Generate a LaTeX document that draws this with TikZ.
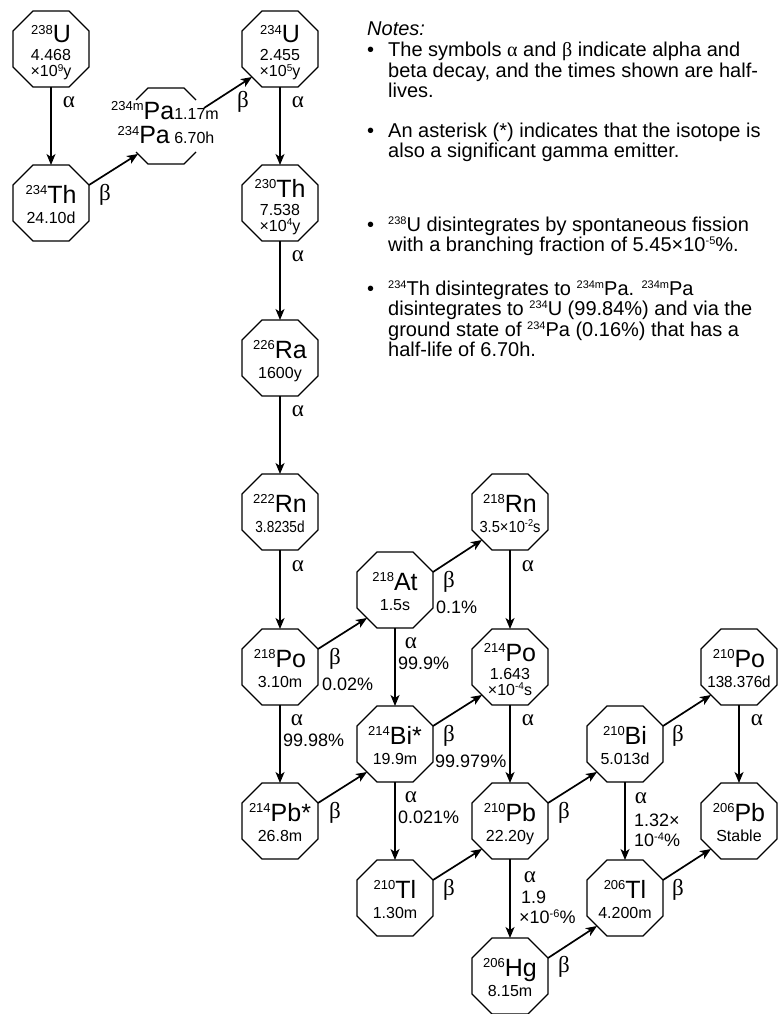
\documentclass[tikz,border=0pt]{standalone}
\usepackage{fontspec}
\usepackage{graphicx}
\setmainfont{Liberation Sans}
\newfontfamily\grkfont{Liberation Serif}
\usetikzlibrary{arrows.meta,calc}
\newcommand\Nuc[2]{\raisebox{8.5pt}{\fontsize{13}{13}\selectfont #1}{\fontsize{25}{25}\selectfont #2}}
\newcommand\Hs[1]{\raisebox{5.5pt}{\fontsize{10}{10}\selectfont #1}}
\newcommand\Ns[1]{\raisebox{7pt}{\fontsize{11}{11}\selectfont #1}}
\newcommand\Ga{{\grkfont α}}
\newcommand\Gb{{\grkfont β}}
\tikzset{
  octbox/.style={draw=none, minimum width=76pt, minimum height=76pt, inner sep=0pt, outer sep=0pt},
  octline/.style={line width=1.3pt, line join=miter},
  symtext/.style={anchor=base, inner sep=0pt, font=\fontsize{25}{25}\selectfont},
  hltext/.style={anchor=base, inner sep=0pt, font=\fontsize{16}{16}\selectfont},
  arr/.style={line width=1.7pt, -{Stealth[length=11pt,width=9pt,inset=3pt]}},
  glab/.style={inner sep=0pt, font=\grkfont\fontsize{23}{23}\selectfont},
  plab/.style={anchor=west, inner sep=0pt, font=\fontsize{18}{18}\selectfont},
  note/.style={anchor=base west, inner sep=0pt, font=\fontsize{20}{21}\selectfont},
}
\newcommand\Oct[3]{%
  \node[octbox] (#1) at (#2,#3) {};
  \draw[octline, shift={(#2,#3)}] (-18,-38) -- (18,-38) -- (38,-18) -- (38,18) -- (18,38) -- (-18,38) -- (-38,18) -- (-38,-18) -- cycle;
}
\newcommand\IsoOne[5]{%
  \Oct{#1}{#2}{#3}
  \node[symtext] (#1-s) at (#2,#3) {#4};
  \node[hltext] (#1-h) at (#2,#3+20) {#5};
}
\newcommand\IsoTwo[6]{%
  \Oct{#1}{#2}{#3}
  \node[symtext] (#1-s) at (#2,#3-6) {#4};
  \node[hltext] (#1-h) at (#2,#3+12) {#5};
  \node[hltext] (#1-k) at (#2,#3+28) {#6};
}
\begin{document}
\begin{tikzpicture}[x=1pt,y=-1pt]
\useasboundingbox (0,0) rectangle (780,1014);
% isotopes
\IsoTwo{U238}{51}{49}{\Nuc{238}{U}}{4.468}{×10\Hs{9}y}
\IsoOne{Th234}{51}{203}{\Nuc{234}{Th}}{24.10d}
\node[octbox] (Pa) at (166,126) {};
\draw[octline, shift={(166,126)}] (-30,-26) -- (-18,-38) -- (18,-38) -- (30,-26);
\draw[octline, shift={(166,126)}] (-30,26) -- (-18,38) -- (18,38) -- (30,26);
\node[anchor=base, inner sep=0pt] (Pa-a) at (165,119.5) {\Nuc{234m}{Pa}{\fontsize{16}{16}\selectfont 1.17m}};
\node[anchor=base, inner sep=0pt] (Pa-b) at (166,143.5) {\Nuc{234}{Pa}{\fontsize{16}{16}\selectfont\ 6.70h}};
\IsoTwo{U234}{280}{49}{\Nuc{234}{U}}{2.455}{×10\Hs{5}y}
\IsoTwo{Th230}{280}{203}{\Nuc{230}{Th}}{7.538}{×10\Hs{4}y}
\IsoOne{Ra226}{280}{358}{\Nuc{226}{Ra}}{1600y}
\IsoOne{Rn222}{280}{512}{\Nuc{222}{Rn}}{\scalebox{0.85}[1]{3.8235d}}
\IsoOne{At218}{395}{590}{\Nuc{218}{At}}{1.5s}
\IsoOne{Rn218}{510}{512}{\Nuc{218}{Rn}}{\scalebox{0.92}[1]{3.5×10\Hs{-2}s}}
\IsoOne{Po218}{280}{667}{\Nuc{218}{Po}}{3.10m}
\IsoOne{Bi214}{395}{744}{\Nuc{214}{Bi*}}{19.9m}
\IsoTwo{Po214}{510}{667}{\Nuc{214}{Po}}{1.643}{×10\Hs{-4}s}
\IsoOne{Pb214}{280}{821}{\Nuc{214}{Pb*}}{26.8m}
\IsoOne{Pb210}{510}{821}{\Nuc{210}{Pb}}{22.20y}
\IsoOne{Bi210}{625}{744}{\Nuc{210}{Bi}}{5.013d}
\IsoOne{Po210}{739}{667}{\Nuc{210}{Po}}{\scalebox{0.95}[1]{138.376d}}
\IsoOne{Pb206}{739}{821}{\Nuc{206}{Pb}}{Stable}
\IsoOne{Tl210}{395}{898}{\Nuc{210}{Tl}}{1.30m}
\IsoOne{Tl206}{625}{898}{\Nuc{206}{Tl}}{4.200m}
\IsoOne{Hg206}{510}{976}{\Nuc{206}{Hg}}{8.15m}
% alpha decays
\foreach \a/\b in {U238/Th234, U234/Th230, Th230/Ra226, Ra226/Rn222, Rn222/Po218, Po218/Pb214, At218/Bi214, Rn218/Po214, Po214/Pb210, Bi214/Tl210, Pb210/Hg206, Bi210/Tl206, Po210/Pb206}
  \draw[arr] (\a.south) -- (\b.north);
% beta decays
\foreach \a/\b in {Th234/Pa, Pa/U234, Po218/At218, At218/Rn218, Pb214/Bi214, Bi214/Po214, Tl210/Pb210, Pb210/Bi210, Bi210/Po210, Hg206/Tl206, Tl206/Pb206}
  \draw[arr] ($(\a.east)+(0,-18)$) -- ($(\b.south west)+(10,-10)$);
% alpha labels
\node[glab] (la1) at (69,102) {α};
\node[glab] (la2) at (298,102) {α};
\node[glab] (la3) at (298,256) {α};
\node[glab] (la4) at (298,411) {α};
\node[glab] (la5) at (298,566) {α};
\node[glab] (la6) at (528,566) {α};
\node[glab] (la7) at (528,720) {α};
\node[glab] (la8) at (757,720) {α};
\node[glab] (la9) at (297,720) {α};
\node[plab] (pa9) at (283,740) {99.98\%};
\node[glab] (la10) at (411,643) {α};
\node[plab] (pa10) at (398,663) {99.9\%};
\node[glab] (la11) at (411,797) {α};
\node[plab] (pa11) at (398,817) {0.021\%};
\node[glab] (la12) at (530,877) {α};
\node[plab] (pa12) at (521,897) {1.9};
\node[plab] (pb12) at (519,917) {×10\raisebox{6pt}{\fontsize{11}{11}\selectfont -6}\%};
\node[glab] (la13) at (641,798) {α};
\node[plab] (pa13) at (634,820) {1.32×};
\node[plab] (pb13) at (634,840) {10\raisebox{6pt}{\fontsize{11}{11}\selectfont -4}\%};
% beta labels
\node[glab] (lb1) at (105,195) {β};
\node[glab] (lb2) at (243,102) {β};
\node[glab] (lb3) at (335,659) {β};
\node[plab] (pb3) at (322,684) {0.02\%};
\node[glab] (lb4) at (449,582) {β};
\node[plab] (pb4) at (436,607) {0.1\%};
\node[glab] (lb5) at (335,813) {β};
\node[glab] (lb6) at (449,736) {β};
\node[plab] (pb6) at (435,761) {99.979\%};
\node[glab] (lb7) at (449,890) {β};
\node[glab] (lb8) at (564,813) {β};
\node[glab] (lb9) at (678,736) {β};
\node[glab] (lb10) at (564,967) {β};
\node[glab] (lb11) at (678,890) {β};
% notes
\node[note, font=\itshape\fontsize{20}{21}\selectfont] (nh) at (367,36) {Notes:};
\node[note] (nb1) at (367,57) {•};
\node[note] (n1a) at (388,57) {The symbols \Ga\ and \Gb\ indicate alpha and};
\node[note] (n1b) at (388,77.5) {beta decay, and the times shown are half-};
\node[note] (n1c) at (388,98) {lives.};
\node[note] (nb2) at (367,137) {•};
\node[note] (n2a) at (388,137) {An asterisk (*) indicates that the isotope is};
\node[note] (n2b) at (388,157.5) {also a significant gamma emitter.};
\node[note] (nb3) at (367,231) {•};
\node[note] (n3a) at (388,231) {\Ns{238}U disintegrates by spontaneous fission};
\node[note] (n3b) at (388,251.5) {with a branching fraction of 5.45×10\Ns{-5}\%.};
\node[note] (nb4) at (367,295) {•};
\node[note] (n4a) at (388,295) {\Ns{234}Th disintegrates to \Ns{234m}Pa. \Ns{234m}Pa};
\node[note] (n4b) at (388,315.5) {disintegrates to \Ns{234}U (99.84\%) and via the};
\node[note] (n4c) at (388,336) {ground state of \Ns{234}Pa (0.16\%) that has a};
\node[note] (n4d) at (388,356.5) {half-life of 6.70h.};
\end{tikzpicture}
\end{document}
